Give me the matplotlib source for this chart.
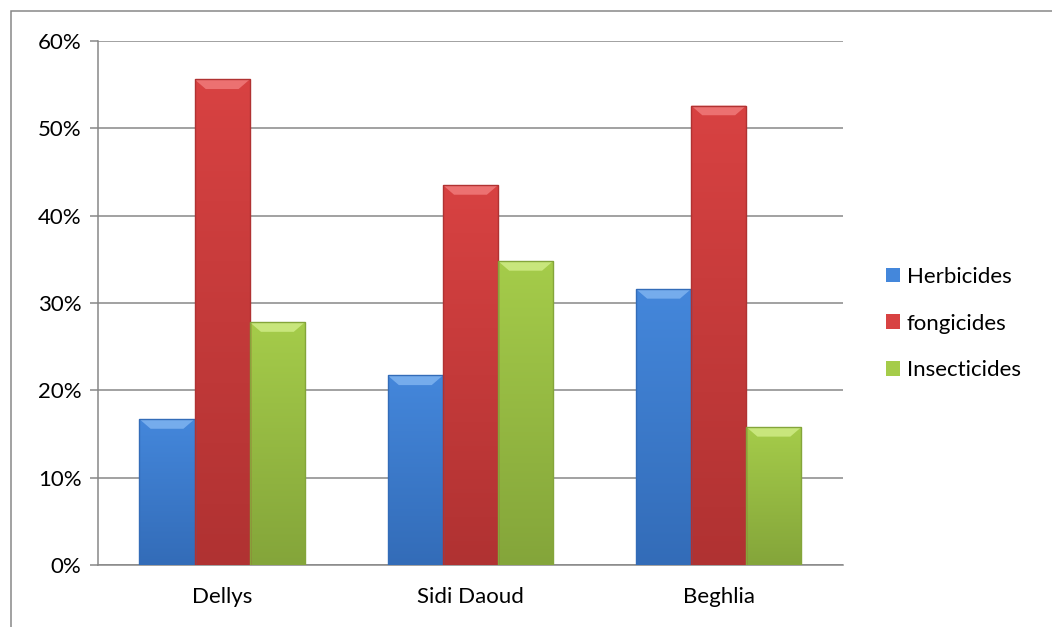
import numpy as np
import matplotlib.pyplot as plt
from matplotlib.colors import LinearSegmentedColormap
from matplotlib.patches import Polygon, Rectangle

plt.rcParams['font.family'] = ['Lato', 'DejaVu Sans']

sites = ['Dellys', 'Sidi Daoud', 'Beghlia']
herbicides = [16.7, 21.7, 31.6]
fongicides = [55.6, 43.5, 52.6]
insecticides = [27.8, 34.8, 15.8]
series_names = ['Herbicides', 'fongicides', 'Insecticides']

# (light top, dark bottom, bevel highlight)
shades = [('#4487db', '#336cb8', '#7fb3f0'),
          ('#d84242', '#b03232', '#f07a7a'),
          ('#a5cc4a', '#84a53a', '#cfec86')]

fig = plt.figure(figsize=(10.52, 6.27), dpi=100)
ax = fig.add_axes([0.0932, 0.0989, 0.708, 0.8357])

x = np.arange(len(sites))
width = 1 / 4.5
handles = []
for i, (vals, name) in enumerate(zip([herbicides, fongicides, insecticides], series_names)):
    top, bottom, hi = shades[i]
    bars = ax.bar(x + (i - 1) * width, vals, width, color=top, label=name,
                  edgecolor='none', zorder=3)
    handles.append(bars)
    cmap = LinearSegmentedColormap.from_list(name, [bottom, top])
    grad = np.linspace(0, 1, 256).reshape(-1, 1)
    for b in bars:
        x0, w, h = b.get_x(), b.get_width(), b.get_height()
        im = ax.imshow(grad, cmap=cmap, aspect='auto', origin='lower',
                       extent=(x0, x0 + w, 0, h), zorder=3.1)
        im.set_clip_path(b)
        # bevel on top of each bar
        dx, dy = 0.045, 1.1
        ax.add_patch(Polygon([(x0, h), (x0 + w, h), (x0 + w - dx, h - dy), (x0 + dx, h - dy)],
                             closed=True, facecolor=hi, edgecolor='none', alpha=0.85, zorder=3.2))
        ax.add_patch(Rectangle((x0, 0), w, h, facecolor='none',
                               edgecolor=bottom, linewidth=1.0, zorder=3.3))

ax.set_xlim(-0.5, 2.5)
ax.set_ylim(0, 60)
ax.set_yticks(range(0, 61, 10))
ax.set_yticklabels([f'{v}%' for v in range(0, 61, 10)])
ax.set_xticks(x)
ax.set_xticklabels(sites)
ax.grid(axis='y', color='#878787', linewidth=1.1, zorder=0)
ax.set_axisbelow(True)

for s in ['top', 'right']:
    ax.spines[s].set_visible(False)
ax.spines['left'].set_color('#878787')
ax.spines['bottom'].set_color('#878787')
ax.spines['left'].set_linewidth(1.1)
ax.spines['bottom'].set_linewidth(1.1)
ax.tick_params(axis='y', length=6, width=1.1, color='#878787', labelsize=16, pad=6)
ax.tick_params(axis='x', length=0, labelsize=16, pad=16)

ax.legend(handles=handles, loc='center left', bbox_to_anchor=(0.823, 0.484),
          bbox_transform=fig.transFigure, frameon=False, fontsize=16,
          handlelength=0.65, handleheight=0.65, handletextpad=0.3, labelspacing=1.2)

# outer chart frame
fig.add_artist(Rectangle((11 / 1052, -0.05), 1.2, 1 - 11 / 627 + 0.05,
                         transform=fig.transFigure, facecolor='none',
                         edgecolor='#878787', linewidth=1.1))

fig.savefig('out.png', dpi=100)
